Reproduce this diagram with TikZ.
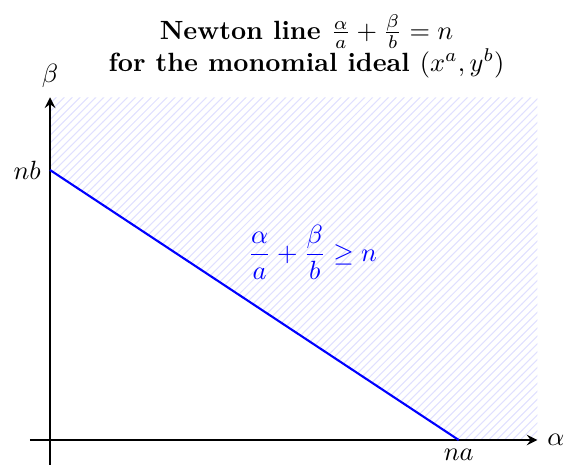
\documentclass[tikz,border=0pt]{standalone}
\usetikzlibrary{patterns}
\begin{document}
\begin{tikzpicture}[scale=1.0, >=stealth]
        \useasboundingbox (-0.667,-0.4) rectangle (6.867,5.867);
        % Points on the axes
        \coordinate (O) at (0,0);
        \coordinate (na) at (5.45,0);
        \coordinate (nb) at (0,3.6);
        \coordinate (xend) at (6.5,0);
        \coordinate (yend) at (0,4.57);

        % Region above the Newton line
        \fill[pattern=north east lines, pattern color=blue!12] (nb) -- (na) -- (xend) -- (6.5,4.57) -- (yend) -- cycle;

        % Axes
        \draw[->, thick] (-0.27,0) -- (xend) node[right] {$\alpha$};
        \draw[->, thick] (0,-0.33) -- (yend) node[above] {$\beta$};

        % Newton line
        \draw[thick, blue] (nb) -- (na);
        \node[left] at (nb) {$nb$};
        \node[below] at (na) {$na$};
        \node[blue] at (3.5,2.5) {$\displaystyle \frac{\alpha}{a}+\frac{\beta}{b}\geq n$};

        \node[align=center, font=\bfseries] at (3.42,5.25) {Newton line $\frac{\alpha}{a}+\frac{\beta}{b}=n$\\ for the monomial ideal $(x^a,y^b)$};
    \end{tikzpicture}
\end{document}
